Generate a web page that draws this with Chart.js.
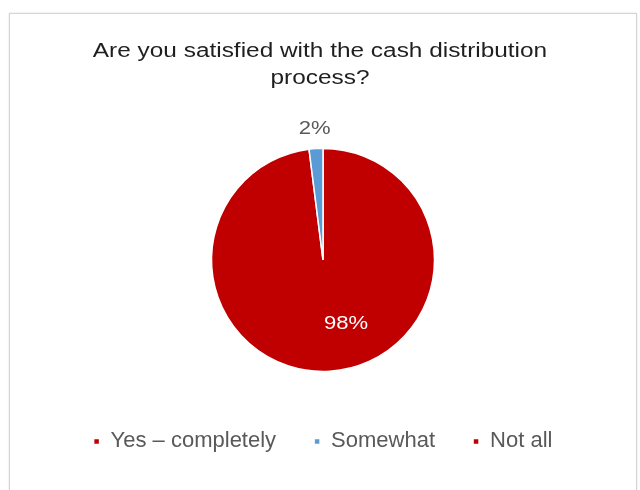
<!DOCTYPE html>
<html>
<head>
<meta charset="utf-8">
<script src="https://cdn.jsdelivr.net/npm/chart.js@4/dist/chart.umd.min.js"></script>
<style>
    body { margin: 0; background: #fff; }
    .frame {
        position: absolute; left: 9px; top: 13px;
        width: 626px; height: 490px;
        border: 1px solid #d4d4d4;
        box-shadow: 0 0 2px rgba(0,0,0,0.12);
        background: #fff;
    }
    .frame canvas { position: absolute; left: 0; top: 0; }
</style>
</head>
<body>
<div class="frame"><canvas id="pieChart" width="626" height="476"></canvas></div>
<script>
// Data
const categories = ['Yes \u2013 completely', 'Somewhat', 'Not all'];
const shares = [98, 2, 0];
const sliceColors = ['#c00000', '#5b9bd5', '#c00000'];
const titleLines = ['Are you satisfied with the cash distribution', 'process?'];

// Le texte de l'image d'origine est un peu etire en largeur
function wideText(ctx, text, x, y, sx) {
    ctx.save();
    ctx.translate(x, y);
    ctx.scale(sx, 1);
    ctx.fillText(text, 0, 0);
    ctx.restore();
}

// Titre dessine a la main (etirement horizontal)
const wideTitle = {
    id: 'wideTitle',
    afterDraw(chart) {
        const ctx = chart.ctx;
        const cx = (chart.chartArea.left + chart.chartArea.right) / 2 - 3;
        ctx.save();
        ctx.font = '20px "Liberation Sans", Arial, sans-serif';
        ctx.fillStyle = '#1f1f1f';
        ctx.textAlign = 'center';
        ctx.textBaseline = 'alphabetic';
        titleLines.forEach((line, i) => wideText(ctx, line, cx, 43 + i * 27, 1.22));
        ctx.restore();
    }
};

// Pourcentages sur les parts (pas de plugin datalabels dispo)
const pctLabels = {
    id: 'pctLabels',
    afterDatasetsDraw(chart) {
        const ctx = chart.ctx;
        const meta = chart.getDatasetMeta(0);
        ctx.save();
        ctx.font = '19px "Liberation Sans", Arial, sans-serif';
        ctx.textAlign = 'center';
        ctx.textBaseline = 'middle';
        meta.data.forEach((arc, i) => {
            const v = shares[i];
            if (!v) return;
            const p = arc.getProps(['x', 'y', 'startAngle', 'endAngle', 'outerRadius'], true);
            let mid = (p.startAngle + p.endAngle) / 2;
            let r;
            if (v > 50) {
                // gros secteur : label a l'interieur, decale comme Excel
                mid -= 0.285;
                r = p.outerRadius * 0.605;
                ctx.fillStyle = '#ffffff';
            } else {
                r = p.outerRadius + 20;
                ctx.fillStyle = '#595959';
            }
            wideText(ctx, v + '%', p.x + Math.cos(mid) * r, p.y + Math.sin(mid) * r, 1.16);
        });
        ctx.restore();
    }
};

Chart.defaults.font.family = '"Liberation Sans", Arial, sans-serif';
Chart.defaults.animation = false;

const pieCtx = document.getElementById('pieChart').getContext('2d');
const pieChart = new Chart(pieCtx, {
    type: 'pie',
    data: {
        labels: categories,
        datasets: [{
            data: shares,
            backgroundColor: sliceColors,
            borderColor: '#ffffff',
            borderWidth: 1.5,
            radius: 111.5
        }]
    },
    options: {
        responsive: false,
        animation: false,
        layout: { padding: { left: 0, right: 0, top: 113.4, bottom: 27.6 } },
        plugins: {
            title: { display: false },
            legend: {
                position: 'bottom',
                labels: {
                    color: '#595959',
                    font: { size: 22 },
                    boxWidth: 6,
                    boxHeight: 6,
                    padding: 38
                }
            },
            tooltip: { enabled: false }
        }
    },
    plugins: [pctLabels, wideTitle]
});
</script>
</body>
</html>
